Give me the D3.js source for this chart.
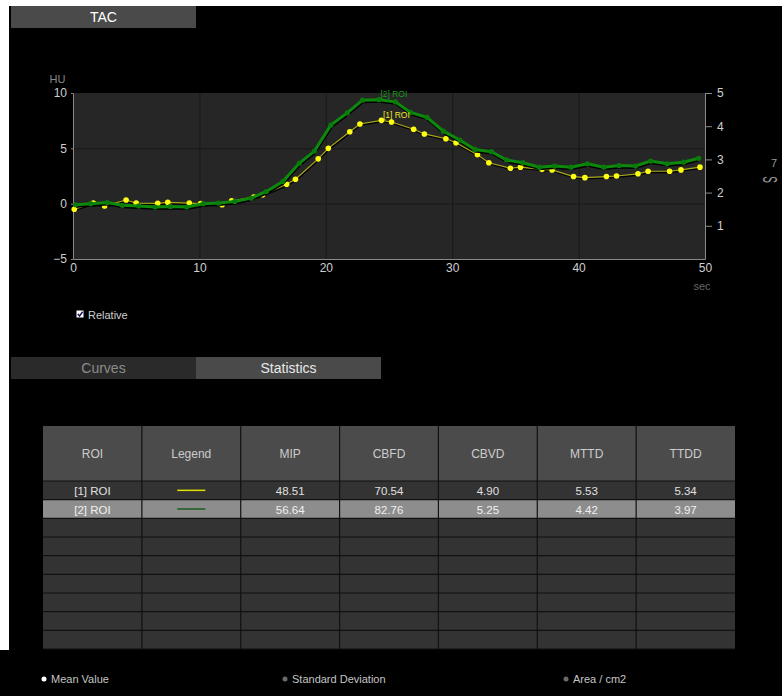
<!DOCTYPE html>
<html><head><meta charset="utf-8">
<script src="https://cdn.jsdelivr.net/npm/d3@7"></script>
<style>
body{margin:0;background:#000}
svg{display:block}
text{font-family:"Liberation Sans",Arial,sans-serif}
</style>
</head><body>
<svg id="c" width="782" height="696"></svg>
<script>
// ---------- data ----------
const roi2Time  = [0.2,1.4,2.7,3.9,5.2,6.5,7.7,9.0,10.3,11.5,12.8,14.1,15.3,16.6,17.9,19.1,20.4,21.7,22.9,24.2,25.5,26.7,28.0,29.3,30.6,31.8,33.1,34.3,35.6,36.9,38.1,39.4,40.7,42.0,43.2,44.5,45.7,47.0,48.3,49.5];
const roi2Value = [-0.1,0.0,0.1,-0.15,-0.2,-0.3,-0.25,-0.3,0.0,0.05,0.2,0.5,1.1,2.0,3.65,4.75,7.1,8.2,9.35,9.4,9.2,8.25,7.8,6.55,5.75,4.9,4.7,3.95,3.7,3.3,3.4,3.3,3.6,3.3,3.45,3.4,3.85,3.6,3.75,4.1];
const roi1Time  = [0.1,1.6,2.5,4.2,5.0,6.7,7.5,9.2,10.1,11.8,12.55,14.3,15.0,16.9,17.6,19.4,20.2,21.9,22.7,24.4,25.2,26.95,27.8,29.5,30.3,32.0,32.9,34.6,35.4,37.1,37.9,39.6,40.5,42.2,43.0,44.7,45.5,47.2,48.1,49.6];
const roi1Value = [-0.5,0.05,-0.2,0.33,0.05,0.03,0.12,0.05,0.0,-0.1,0.25,0.6,0.8,1.75,2.2,4.05,5.0,6.5,7.2,7.53,7.38,6.72,6.3,5.87,5.5,4.43,3.7,3.2,3.3,3.1,3.05,2.45,2.35,2.45,2.5,2.7,2.93,2.93,3.05,3.3];
const seriesNames = ["[1] ROI","[2] ROI"];
const xTicks = [0,10,20,30,40,50];
const yTicks = [-5,0,5,10];
const yGrid  = [0,5];
const xGrid  = [10,20,30,40];
const rightTicks = [1,2,3,4,5];
const columns = ["ROI","Legend","MIP","CBFD","CBVD","MTTD","TTDD"];
const mip  = ["48.51","56.64"];
const cbfd = ["70.54","82.76"];
const cbvd = ["4.90","5.25"];
const mttd = ["5.53","4.42"];
const ttdd = ["5.34","3.97"];
const emptyRows = 7;
const footerItems = ["Mean Value","Standard Deviation","Area / cm2"];
const tabs = ["Curves","Statistics"];

// ---------- drawing ----------
const svg = d3.select("#c");
svg.append("rect").attr("width",782).attr("height",696).attr("fill","#000");
svg.append("rect").attr("x",0).attr("y",0).attr("width",782).attr("height",6).attr("fill","#fff");
svg.append("rect").attr("x",0).attr("y",0).attr("width",9).attr("height",650).attr("fill","#fff");

// TAC tab
svg.append("rect").attr("x",11).attr("y",6).attr("width",185).attr("height",22).attr("fill","#4a4a4a");
svg.append("text").attr("x",103.5).attr("y",17).attr("text-anchor","middle").attr("dominant-baseline","central")
  .attr("font-size",14).attr("fill","#fff").text("TAC");

const X0=73, X1=705, Y0=93, Y1=259;
const x = d3.scaleLinear([0,50],[X0,X1]);
const y = d3.scaleLinear([-5,10],[Y1,Y0]);
const yR = d3.scaleLinear([0,5],[Y1,Y0]);

svg.append("rect").attr("x",X0).attr("y",Y0).attr("width",X1-X0).attr("height",Y1-Y0).attr("fill","#262626");
const grid = svg.append("g").attr("stroke","#191919").attr("stroke-width",1);
grid.selectAll(".vg").data(xGrid).join("line")
  .attr("x1",d=>x(d)+0.5).attr("x2",d=>x(d)+0.5).attr("y1",Y0).attr("y2",Y1);
grid.selectAll(".hg").data(yGrid).join("line")
  .attr("x1",X0).attr("x2",X1).attr("y1",d=>y(d)+0.5).attr("y2",d=>y(d)+0.5);

function styleAxis(g){
  g.select(".domain").attr("stroke","#8a8a8a");
  g.selectAll(".tick line").attr("stroke","#8a8a8a");
  g.selectAll("text").attr("fill","#cfcfcf").attr("font-size",12).attr("font-family","'Liberation Sans',Arial,sans-serif");
}
svg.append("g").attr("transform",`translate(${X0},0)`)
  .call(d3.axisLeft(y).tickValues(yTicks).tickSize(2).tickSizeOuter(0).tickPadding(4).tickFormat(d3.format("d")))
  .call(styleAxis);
svg.append("g").attr("transform",`translate(0,${Y1})`)
  .call(d3.axisBottom(x).tickValues(xTicks).tickSize(0).tickPadding(4).tickFormat(d3.format("d")))
  .call(styleAxis);
svg.append("g").attr("transform",`translate(${X1},0)`)
  .call(d3.axisRight(yR).tickValues(rightTicks).tickSize(7).tickSizeOuter(0).tickPadding(5).tickFormat(d3.format("d")))
  .call(styleAxis);

svg.append("text").attr("x",57.5).attr("y",79).attr("text-anchor","middle").attr("dominant-baseline","central")
  .attr("font-size",11).attr("fill","#888").text("HU");
svg.append("text").attr("x",702).attr("y",286).attr("text-anchor","middle").attr("dominant-baseline","central")
  .attr("font-size",11).attr("fill","#666").text("sec");
svg.append("text").attr("x",774).attr("y",163).attr("text-anchor","middle").attr("dominant-baseline","central")
  .attr("font-size",11).attr("fill","#999").text("7");
svg.append("text").attr("transform","translate(771,179.5) rotate(90) scale(1,2.1)")
  .attr("text-anchor","middle").attr("dominant-baseline","central")
  .attr("font-size",10).attr("fill","#999").text("S");

const roi1 = roi1Time.map((t,i)=>({t,v:roi1Value[i]}));
const roi2 = roi2Time.map((t,i)=>({t,v:roi2Value[i]}));
const line = d3.line().x(d=>x(d.t)).y(d=>y(d.v));

// ROI 1 (yellow)
svg.append("path").datum(roi1).attr("d",line).attr("fill","none").attr("stroke","#000")
  .attr("stroke-width",1.5).attr("transform","translate(0.5,1.2)");
svg.append("path").datum(roi1).attr("d",line).attr("fill","none").attr("stroke","#a8a818").attr("stroke-width",1.2);
svg.append("g").selectAll("circle").data(roi1).join("circle")
  .attr("cx",d=>x(d.t)).attr("cy",d=>y(d.v)).attr("r",2.8).attr("fill","#ffff10");

// ROI 2 (green)
svg.append("path").datum(roi2).attr("d",line).attr("fill","none").attr("stroke","#000")
  .attr("stroke-width",3).attr("transform","translate(0.5,1.5)");
svg.append("path").datum(roi2).attr("d",line).attr("fill","none").attr("stroke","#0c8a0c").attr("stroke-width",3);
svg.append("g").selectAll("circle").data(roi2).join("circle")
  .attr("cx",d=>x(d.t)).attr("cy",d=>y(d.v)).attr("r",2.6).attr("fill","#0a7a0a");

// series labels at peaks
const p1 = roi1[d3.maxIndex(roi1,d=>d.v)];
const p2 = roi2[d3.maxIndex(roi2,d=>d.v)];
svg.append("text").attr("x",x(p2.t)+1.5).attr("y",y(p2.v)-2.5).attr("font-size",8.5).attr("fill","#1a9a1a").text(seriesNames[1]);
svg.append("text").attr("x",x(p1.t)+1.5).attr("y",y(p1.v)-2.5).attr("font-size",8.5).attr("fill","#e8e820").text(seriesNames[0]);

// Relative checkbox
svg.append("rect").attr("x",76.5).attr("y",310.5).attr("width",7).attr("height",7).attr("fill","#fff");
svg.append("path").attr("d","M77.8,314 L79.6,316 L82.6,311.8").attr("fill","none").attr("stroke","#1a1a60").attr("stroke-width",1.5);
svg.append("text").attr("x",88).attr("y",314.5).attr("dominant-baseline","central").attr("font-size",11).attr("fill","#cfcfcf").text("Relative");

// Curves / Statistics tabs
const tabX = d3.scaleBand().domain(tabs).range([11,381]).padding(0);
svg.append("g").selectAll("rect").data(tabs).join("rect")
  .attr("x",d=>tabX(d)).attr("y",357).attr("width",tabX.bandwidth()).attr("height",22)
  .attr("fill",(d,i)=>i===0?"#2a2a2a":"#4a4a4a");
svg.append("g").selectAll("text").data(tabs).join("text")
  .attr("x",d=>tabX(d)+tabX.bandwidth()/2).attr("y",368).attr("text-anchor","middle").attr("dominant-baseline","central")
  .attr("font-size",14).attr("fill",(d,i)=>i===0?"#8c8c8c":"#e8e8e8").text(d=>d);

// Table
const colX = d3.scaleBand().domain(columns).range([43,735]);
const HY0=426, HY1=481, RH=(649-481)/(2+emptyRows);
const rows = [0,1].map(i=>[seriesNames[i],"",mip[i],cbfd[i],cbvd[i],mttd[i],ttdd[i]]);
for(let k=0;k<emptyRows;k++) rows.push(["","","","","","",""]);
const tbl = svg.append("g");
tbl.append("rect").attr("x",43).attr("y",HY0).attr("width",692).attr("height",HY1-HY0).attr("fill","#4b4b4b");
tbl.selectAll(".row").data(rows).join("rect")
  .attr("x",43).attr("y",(d,i)=>HY1+i*RH).attr("width",692).attr("height",RH)
  .attr("fill",(d,i)=>i===1?"#8d8d8d":"#333333");
// grid lines
tbl.selectAll(".hl").data(d3.range(rows.length+1)).join("line")
  .attr("x1",43).attr("x2",735).attr("y1",i=>HY1+i*RH).attr("y2",i=>HY1+i*RH)
  .attr("stroke","#111").attr("stroke-width",1.2);
tbl.selectAll(".vl").data(columns.slice(1)).join("line")
  .attr("x1",d=>colX(d)).attr("x2",d=>colX(d)).attr("y1",HY0).attr("y2",649)
  .attr("stroke","#111").attr("stroke-width",1.2);
tbl.selectAll(".ht").data(columns).join("text")
  .attr("x",d=>colX(d)+colX.bandwidth()/2).attr("y",(HY0+HY1)/2).attr("text-anchor","middle").attr("dominant-baseline","central")
  .attr("font-size",12).attr("fill","#cccccc").text(d=>d);
rows.slice(0,2).forEach((r,ri)=>{
  const cy = HY1+ri*RH+RH/2;
  tbl.selectAll(".c"+ri).data(r).join("text")
    .attr("x",(d,ci)=>colX(columns[ci])+colX.bandwidth()/2).attr("y",cy+0.5)
    .attr("text-anchor","middle").attr("dominant-baseline","central")
    .attr("font-size",11.5).attr("fill",ri===1?"#f0f0f0":"#e0e0e0").text(d=>d);
  const lx = colX("Legend")+colX.bandwidth()/2;
  tbl.append("line").attr("x1",lx-14).attr("x2",lx+14).attr("y1",cy).attr("y2",cy)
    .attr("stroke",ri===0?"#e0e000":"#1c5c1c").attr("stroke-width",1.5);
});

// Footer
const footX = [44,285,566];
svg.append("g").selectAll("circle").data(footerItems).join("circle")
  .attr("cx",(d,i)=>footX[i]).attr("cy",679).attr("r",2.5).attr("fill",(d,i)=>i===0?"#fff":"#6a6a6a");
svg.append("g").selectAll("text").data(footerItems).join("text")
  .attr("x",(d,i)=>footX[i]+7).attr("y",679).attr("dominant-baseline","central")
  .attr("font-size",11).attr("fill","#c4c4c4").text(d=>d);
</script>
</body></html>
